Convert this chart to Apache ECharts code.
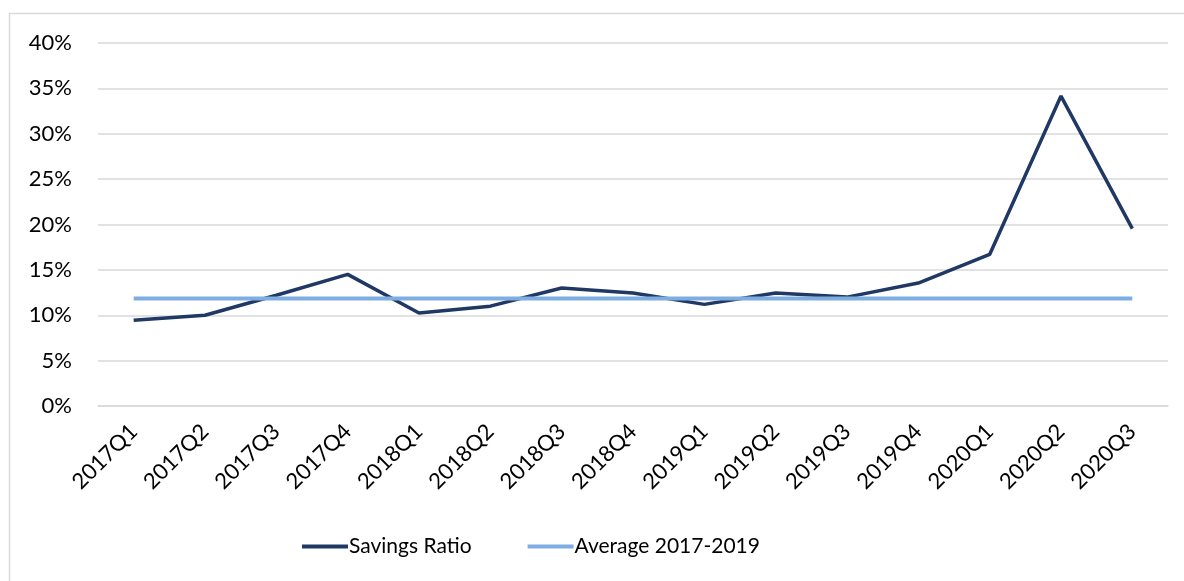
<!DOCTYPE html>
<html>
<head>
<meta charset="utf-8">
<script src="https://cdn.jsdelivr.net/npm/echarts@6/dist/echarts.min.js"></script>
<style>html,body{margin:0;padding:0;background:#fff}#c{width:1184px;height:581px}</style>
</head>
<body>
<div id="c"></div>
<script>
const categories = ['2017Q1','2017Q2','2017Q3','2017Q4','2018Q1','2018Q2','2018Q3','2018Q4','2019Q1','2019Q2','2019Q3','2019Q4','2020Q1','2020Q2','2020Q3'];
const savingsRatio = [9.45, 10.0, 12.2, 14.5, 10.25, 11.0, 13.0, 12.45, 11.2, 12.45, 12.0, 13.55, 16.7, 34.15, 19.55];
const averageValue = 11.85;
const average2017_2019 = categories.map(() => averageValue);
const yTicks = [0, 5, 10, 15, 20, 25, 30, 35, 40];

const chart = echarts.init(document.getElementById('c'), null, {renderer: 'canvas'});
const font = 'Lato, "Open Sans", sans-serif';
chart.setOption({
  animation: false,
  textStyle: {fontFamily: font},
  graphic: [{
    type: 'rect', silent: true,
    shape: {x: 9.5, y: 13.5, width: 1200, height: 600},
    style: {fill: 'none', stroke: '#d9d9d9', lineWidth: 1.5}
  }],
  grid: {left: 98, right: 16, top: 43, bottom: 175, containLabel: false},
  legend: {
    bottom: 19, left: 297,
    itemWidth: 46, itemHeight: 4, itemGap: 56,
    textStyle: {fontSize: 21, color: '#000', fontFamily: font, padding: [0,0,0,-4]},
    data: [
      {name: 'Savings Ratio', icon: 'rect'},
      {name: 'Average 2017-2019', icon: 'rect'}
    ]
  },
  xAxis: {
    type: 'category', data: categories, boundaryGap: true,
    axisLine: {show: true, lineStyle: {color: '#d9d9d9', width: 1.5}},
    axisTick: {show: false},
    axisLabel: {rotate: 45, fontSize: 22, color: '#000', margin: 22, interval: 0, fontFamily: font}
  },
  yAxis: {
    type: 'value', min: 0, max: 40, interval: 5,
    axisLine: {show: false}, axisTick: {show: false},
    splitLine: {lineStyle: {color: '#d9d9d9', width: 1.5}},
    axisLabel: {formatter: v => yTicks.includes(v) ? v + '%' : '', fontSize: 22, color: '#000', margin: 26, fontFamily: font}
  },
  series: [
    {name: 'Savings Ratio', type: 'line', data: savingsRatio, symbol: 'none',
     lineStyle: {color: '#203864', width: 3.5}, itemStyle: {color: '#203864'}},
    {name: 'Average 2017-2019', type: 'line', data: average2017_2019, symbol: 'none',
     lineStyle: {color: '#7eade2', width: 4}, itemStyle: {color: '#7eade2'}}
  ]
});
</script>
</body>
</html>
